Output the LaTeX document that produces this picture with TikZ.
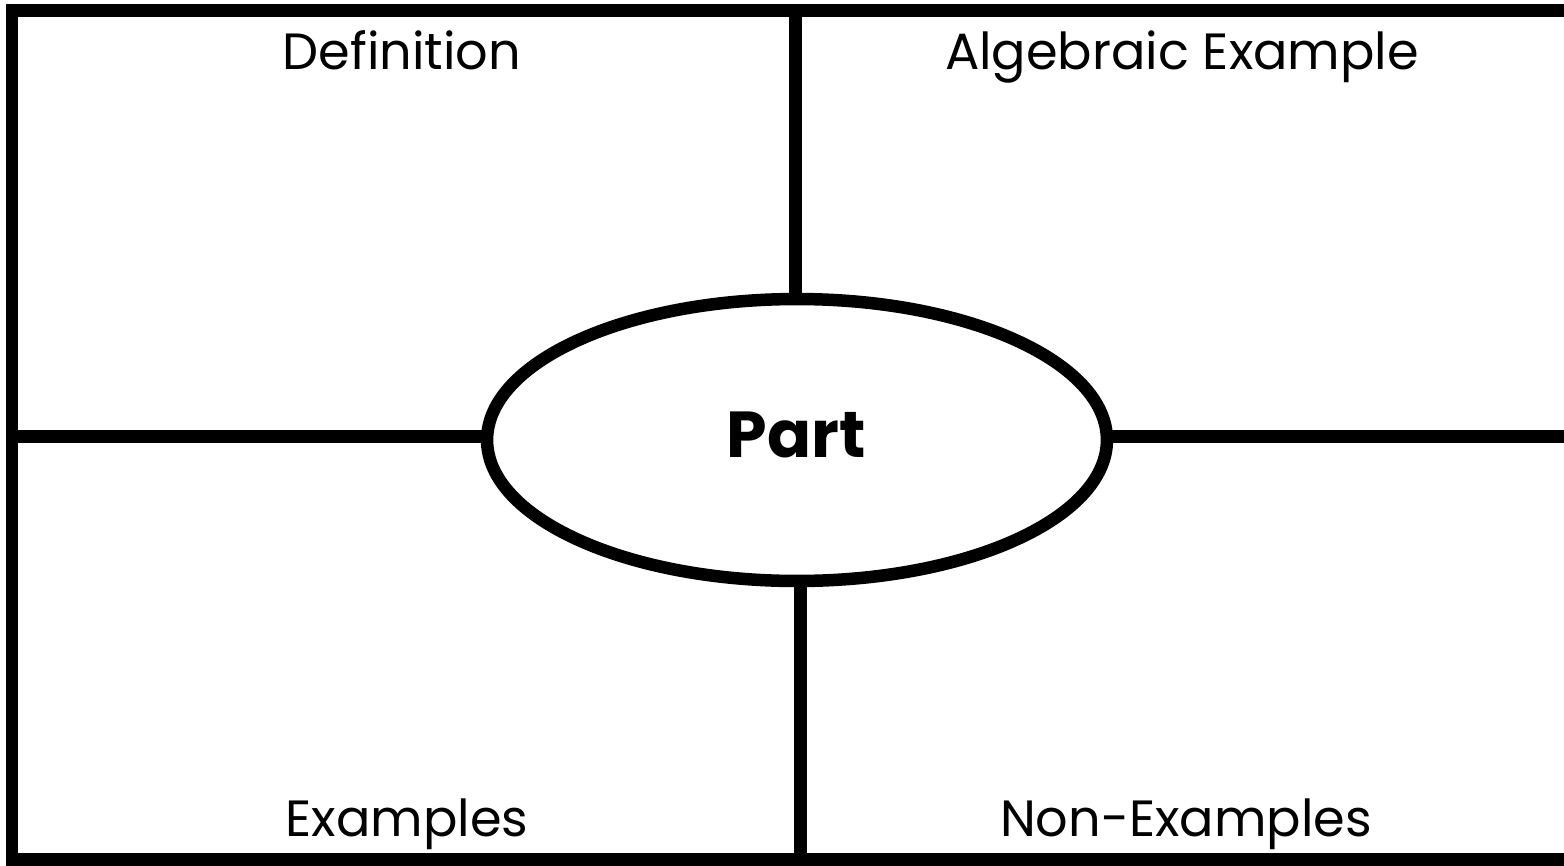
\documentclass[tikz,border=0pt]{standalone}
\usepackage{fontspec}
\setmainfont{Poppins}
\usetikzlibrary{shapes.geometric}
\tikzset{
  frame/.style={line width=0.26cm, line cap=rect},
  bar/.style={line width=0.26cm},
  label/.style={anchor=base, inner sep=0pt, font=\fontsize{29}{34}\selectfont},
  centre/.style={draw, ellipse, line width=0.25cm, minimum width=12.4cm, minimum height=5.64cm, inner sep=0pt, outer sep=0pt}
}
\begin{document}
\begin{tikzpicture}[x=0.02cm, y=-0.02cm]
\useasboundingbox (0,0) rectangle (1564,865);
% frame corners
\coordinate (tl) at (12,11);
\coordinate (tr) at (1570,11);
\coordinate (bl) at (12,859);
\coordinate (br) at (1570,859);
\draw[frame] (tr) -- (tl) -- (bl) -- (br);
% central oval
\node[centre] (part) at (797,440) {};
\node[anchor=base, inner sep=0pt, font=\fontsize{37}{44}\selectfont\bfseries] (parttext) at (796,457) {Part};
% dividing lines
\coordinate (ml) at (12,436);
\coordinate (mr) at (1570,436);
\coordinate (mt) at (795,11);
\coordinate (mb) at (800,859);
\draw[bar] (ml) -- (ml -| part.west);
\draw[bar] (part.east |- mr) -- (mr);
\draw[bar] (mt) -- (mt |- part.north);
\draw[bar] (mb |- part.south) -- (mb);
% labels
\node[label] (def) at (402,70) {Definition};
\node[label] (alg) at (1182,70) {Algebraic Example};
\node[label] (ex) at (407,836) {Examples};
\node[label] (nex) at (1186,836) {Non-Examples};
\end{tikzpicture}
\end{document}
